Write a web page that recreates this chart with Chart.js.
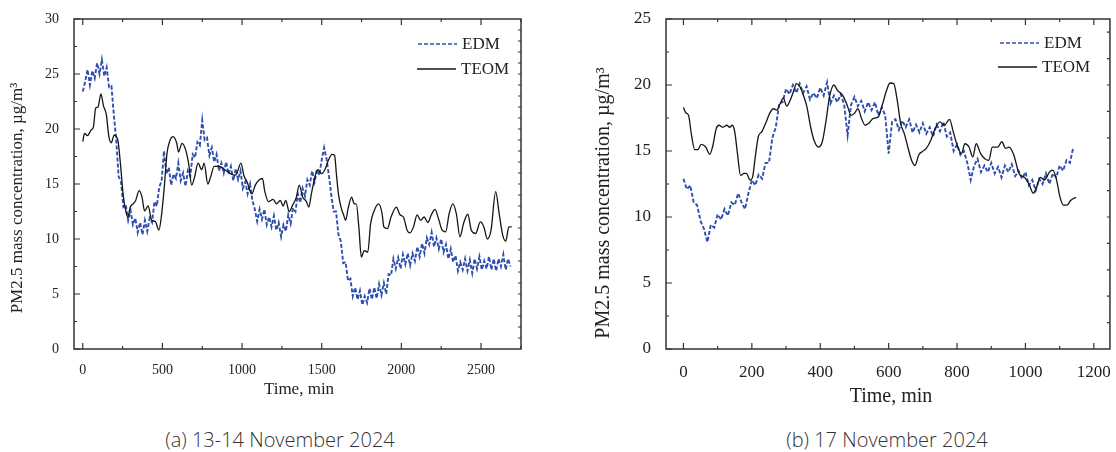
<!DOCTYPE html>
<html>
<head>
<meta charset="utf-8">
<script src="https://cdn.jsdelivr.net/npm/chart.js@4.4.1/dist/chart.umd.min.js"></script>
<style>
  body { margin: 0; background: #fff; width: 1116px; height: 452px; position: relative; overflow: hidden; }
  canvas { position: absolute; top: 0; }
  #chartA { left: 0; }
  #chartB { left: 560px; }
  .cap { position: absolute; top: 426px; width: 400px; text-align: center; font: 350 20px 'Open Sans', 'Noto Sans', sans-serif; color: #333; line-height: 27px; }
</style>
</head>
<body>
<canvas id="chartA" width="560" height="420"></canvas>
<canvas id="chartB" width="556" height="420"></canvas>
<div class="cap" style="left:80px">(a) 13-14 November 2024</div>
<div class="cap" style="left:687px">(b) 17 November 2024</div>
<script>
// ---- data (a) 13-14 November, EDM sampled every 15 min
const edmLeftStep = 15;
const edmLeft = [
  23.4,24.3,25.4,24.0,25.3,24.6,26.0,25.0,26.3,24.8,
  25.6,23.8,23.9,21.3,19.0,15.7,15.2,12.9,13.1,11.7,
  12.6,11.3,11.9,10.6,11.5,10.4,11.7,10.7,11.9,11.5,
  13.4,13.0,14.7,15.3,18.0,15.9,16.5,14.9,15.9,15.5,
  16.9,15.3,16.0,14.8,16.2,15.7,17.7,17.4,18.8,18.5,
  20.8,19.0,19.2,17.6,18.3,17.0,17.7,16.2,16.9,16.0,
  17.0,15.9,16.6,15.3,16.4,15.4,16.2,14.6,15.2,14.1,
  15.0,13.5,12.7,11.6,12.7,11.8,12.7,11.3,12.0,11.1,
  12.1,10.8,11.5,10.2,11.3,10.7,12.2,11.4,12.8,12.5,
  14.1,13.3,14.6,13.9,15.4,14.9,16.2,15.2,16.3,15.8,
  17.2,18.3,17.3,15.8,14.0,12.5,12.5,10.4,9.8,7.8,
  7.9,6.2,6.4,4.8,5.6,4.5,5.3,4.0,4.8,4.2,
  5.5,4.5,5.6,4.6,5.9,4.9,6.0,5.0,6.8,6.7,
  8.2,7.3,8.3,7.3,8.6,7.7,8.7,7.6,8.7,8.0,
  9.3,8.4,9.6,8.7,10.1,9.5,10.6,9.3,10.1,9.1,
  10.0,8.8,9.5,8.2,9.1,7.9,8.5,7.1,7.9,7.2,
  8.2,7.1,8.1,6.9,8.2,7.3,8.4,7.2,8.0,7.3,
  8.4,7.2,8.2,7.1,8.2,7.5,8.6,7.2,8.2,7.5
];
const teomLeftTime = [
  0,11,29,52,67,81,96,114,130,148,164,179,197,220,238,253,269,283,298,316,
  332,354,372,388,410,433,455,478,493,511,529,545,567,590,601,623,646,664,684,702,
  724,747,762,785,803,825,859,892,926,960,993,1011,1031,1061,1083,1105,1128,1143,1166,1195,
  1217,1240,1258,1274,1296,1318,1341,1359,1381,1404,1419,1435,1453,1475,1498,1520,1543,1565,1581,1592,
  1605,1621,1637,1650,1666,1688,1704,1717,1733,1749,1767,1789,1807,1830,1857,1879,1890,1913,1935,1969,
  1991,2013,2036,2054,2076,2099,2121,2143,2166,2188,2211,2233,2256,2278,2300,2323,2345,2368,2390,2417,
  2439,2466,2496,2518,2540,2563,2592,2614,2637,2655,2675,2693
];
const teomLeftValue = [
  18.85,19.6,19.4,19.9,20.2,21.9,22.0,23.2,22.1,21.3,19.3,18.75,19.45,19.0,16.6,14.1,12.6,12.0,12.9,13.2,
  13.5,14.4,13.8,12.55,13.0,11.7,11.6,10.8,12.0,14.6,17.8,18.85,19.3,18.7,17.9,18.7,18.1,16.9,14.9,15.65,
  16.9,16.3,16.9,15.0,15.65,16.6,16.6,16.3,15.95,15.8,16.9,15.8,15.2,14.1,14.9,15.35,15.5,14.3,13.4,13.6,
  13.2,13.5,13.0,13.5,12.5,13.1,13.8,14.9,13.8,13.4,12.9,14.1,15.35,16.3,15.95,16.3,17.2,17.7,17.6,15.95,
  14.1,12.9,12.2,11.7,12.8,13.8,13.2,13.2,11.1,8.35,8.95,8.8,11.4,12.6,13.2,12.3,11.1,10.95,12.0,12.9,
  12.2,12.0,10.8,10.55,11.1,12.2,11.7,12.0,11.5,12.2,12.7,11.85,10.8,10.65,12.3,13.2,12.3,10.2,11.4,12.25,
  10.8,10.5,11.55,11.1,10.0,10.8,14.3,12.3,10.3,9.8,11.1,11.1
];

// ---- data (b) 17 November, EDM sampled every 10 min
const edmRightStep = 10;
const edmRight = [
  12.9,12.1,12.4,11.1,10.9,9.7,9.1,8.1,9.4,9.2,
  10.2,9.8,10.6,10.1,11.1,10.9,11.8,11.1,10.6,11.8,
  12.8,12.4,13.2,12.9,14.1,14.1,16.0,16.8,18.6,18.7,
  19.7,19.3,20.0,19.4,20.1,19.4,19.9,18.9,19.4,19.0,
  19.8,19.2,20.2,18.6,19.2,18.7,19.3,18.5,16.2,18.5,
  19.1,18.4,18.8,18.0,18.7,18.1,18.7,17.7,18.3,17.7,
  14.8,17.2,17.4,16.6,17.3,16.8,17.4,16.4,17.0,16.4,
  17.1,16.3,16.8,16.1,17.0,16.5,17.2,16.1,16.4,15.0,
  15.5,14.7,15.0,14.1,12.8,13.9,14.4,13.4,13.9,13.4,
  14.1,13.3,13.8,13.0,13.9,13.4,14.0,13.1,13.5,12.9,
  13.4,12.4,12.8,12.0,12.9,12.5,13.3,12.5,13.3,13.0,
  13.9,13.5,14.3,14.1,15.3
];
const teomRightTime = [
  0,7,15,23,33,42,52,65,77,85,96,104,115,127,135,143,150,158,167,177,
  184,195,202,210,219,229,242,252,263,273,283,292,302,312,323,330,341,351,361,372,
  382,395,406,417,427,440,450,466,479,490,500,510,521,531,542,554,570,580,594,604,
  615,625,635,646,656,667,677,688,698,710,723,736,750,763,778,789,799,813,823,835,
  846,856,869,882,893,903,919,931,942,952,966,981,997,1010,1023,1033,1044,1056,1070,1080,
  1091,1101,1111,1122,1132,1148
];
const teomRightValue = [
  18.3,17.9,17.7,16.3,15.1,15.1,15.5,15.3,14.75,15.3,16.7,16.95,16.8,16.95,16.8,16.95,16.45,14.8,13.15,13.3,
  13.3,12.8,13.0,14.55,16.1,16.45,17.2,17.85,18.2,18.1,18.6,19.0,18.4,18.85,19.6,20.1,19.85,19.2,18.35,16.8,
  15.8,15.3,15.7,17.3,19.1,20.0,19.6,19.2,18.45,17.7,17.85,18.2,17.45,16.95,17.1,17.45,17.6,18.35,19.6,20.15,
  20.1,18.85,17.1,16.3,15.3,14.3,13.9,14.7,14.95,15.2,15.8,16.7,17.2,16.95,17.4,16.45,15.55,14.8,15.55,15.3,
  14.55,15.55,14.8,14.4,14.3,15.3,15.3,15.7,15.2,15.3,14.7,13.3,13.0,12.5,11.8,12.3,13.0,12.8,13.4,13.55,
  12.8,11.5,10.9,10.9,11.25,11.5
];

const xTicksLeft = [0, 500, 1000, 1500, 2000, 2500];
const yTicksLeft = [0, 5, 10, 15, 20, 25, 30];
const xTicksRight = [0, 200, 400, 600, 800, 1000, 1200];
const yTicksRight = [0, 5, 10, 15, 20, 25];
const seriesNames = ['EDM', 'TEOM'];
const xTitle = 'Time, min';
const yTitle = 'PM2.5 mass concentration, µg/m³';

const serif = "'Liberation Serif', 'Times New Roman', serif";

function stepped(step, vals) { return vals.map((v, i) => ({ x: i * step, y: v })); }
function paired(t, vals) { return vals.map((v, i) => ({ x: t[i], y: v })); }

// box, inward ticks on all four sides, titles and legend
const framePlugin = {
  id: 'frame',
  afterDraw(chart, args, o) {
    const { ctx, chartArea: a } = chart;
    const xs = chart.scales.x, ys = chart.scales.y;
    ctx.save();
    ctx.strokeStyle = '#333';
    ctx.lineWidth = 1.5;
    ctx.strokeRect(a.left, a.top, a.right - a.left, a.bottom - a.top);

    ctx.lineWidth = 1.2;
    ctx.beginPath();
    const xt = o.xTicks, yt = o.yTicks;
    const xMarks = [];
    xt.forEach((v, i) => {
      xMarks.push([v, 6]);
      const next = i < xt.length - 1 ? xt[i + 1] : v + (v - xt[i - 1]);
      const mid = (v + next) / 2;
      if (mid < xs.max) xMarks.push([mid, 3]);
    });
    xMarks.forEach(([v, len]) => {
      const p = xs.getPixelForValue(v);
      ctx.moveTo(p, a.bottom); ctx.lineTo(p, a.bottom - len);
      ctx.moveTo(p, a.top); ctx.lineTo(p, a.top + len);
    });
    yt.forEach((v, i) => {
      const p = ys.getPixelForValue(v);
      ctx.moveTo(a.left, p); ctx.lineTo(a.left + 6, p);
      if (i < yt.length - 1) {
        const q = ys.getPixelForValue((v + yt[i + 1]) / 2);
        ctx.moveTo(a.left, q); ctx.lineTo(a.left + 3, q);
      }
    });
    for (let v = o.rightStep; v < ys.max; v += o.rightStep) {
      const p = ys.getPixelForValue(v);
      ctx.moveTo(a.right, p); ctx.lineTo(a.right - 3, p);
    }
    ctx.stroke();

    ctx.fillStyle = '#222';
    ctx.textAlign = 'center';
    ctx.textBaseline = 'middle';
    ctx.font = o.titleSize + 'px ' + serif;
    ctx.fillText(xTitle, o.xTitlePos[0], o.xTitlePos[1]);
    ctx.save();
    ctx.translate(o.yTitlePos[0], o.yTitlePos[1]);
    ctx.rotate(-Math.PI / 2);
    ctx.fillText(yTitle, 0, 0);
    ctx.restore();

    ctx.font = '17px ' + serif;
    ctx.textAlign = 'left';
    chart.data.datasets.forEach((ds, i) => {
      const [x0, x1, y] = o.legend[i];
      ctx.strokeStyle = ds.borderColor;
      ctx.lineWidth = 1.4;
      ctx.setLineDash(ds.borderDash || []);
      ctx.beginPath();
      ctx.moveTo(x0, y); ctx.lineTo(x1, y);
      ctx.stroke();
      ctx.setLineDash([]);
      ctx.fillText(ds.label, x1 + 5, y + 1);
    });
    ctx.restore();
  }
};

function build(id, cfg) {
  return new Chart(document.getElementById(id), {
    type: 'line',
    data: {
      datasets: [
        { label: seriesNames[0], data: cfg.edm, borderColor: '#2f4fae', borderWidth: 1.9,
          borderDash: [4, 2], pointRadius: 0, tension: 0, order: 2 },
        { label: seriesNames[1], data: cfg.teom, borderColor: '#151515', borderWidth: 1.3,
          pointRadius: 0, tension: 0.4, cubicInterpolationMode: 'monotone', order: 1 }
      ]
    },
    options: {
      responsive: false,
      animation: false,
      devicePixelRatio: 1,
      layout: { padding: { top: 19, right: cfg.padRight, left: 0, bottom: 0 } },
      plugins: { legend: { display: false }, tooltip: { enabled: false }, frame: cfg.frame },
      scales: {
        x: {
          type: 'linear', min: cfg.xMin, max: cfg.xMax,
          afterBuildTicks: s => { s.ticks = cfg.xTicks.map(v => ({ value: v })); },
          afterFit: s => { s.height = 420 - 349; },
          grid: { display: false }, border: { display: false },
          ticks: { font: { family: serif, size: cfg.tickSize }, color: '#222', padding: 5,
                   maxRotation: 0, autoSkip: false, callback: v => String(v) }
        },
        y: {
          min: 0, max: cfg.yMax,
          afterBuildTicks: s => { s.ticks = cfg.yTicks.map(v => ({ value: v })); },
          afterFit: s => { s.width = cfg.yWidth; },
          grid: { display: false }, border: { display: false },
          ticks: { font: { family: serif, size: cfg.tickSize }, color: '#222', padding: 7,
                   callback: v => String(v) }
        }
      }
    },
    plugins: [framePlugin]
  });
}

build('chartA', {
  edm: stepped(edmLeftStep, edmLeft),
  teom: paired(teomLeftTime, teomLeftValue),
  xMin: -55, xMax: 2751, yMax: 30,
  xTicks: xTicksLeft, yTicks: yTicksLeft,
  yWidth: 74, padRight: 39, tickSize: 14,
  frame: {
    xTicks: xTicksLeft, yTicks: yTicksLeft, rightStep: 1, titleSize: 17,
    xTitlePos: [299, 390], yTitlePos: [18, 198],
    legend: [[418, 457, 44], [417, 456, 69]]
  }
});

build('chartB', {
  edm: stepped(edmRightStep, edmRight),
  teom: paired(teomRightTime, teomRightValue),
  xMin: -51, xMax: 1247, yMax: 25,
  xTicks: xTicksRight, yTicks: yTicksRight,
  yWidth: 106, padRight: 4, tickSize: 17,
  frame: {
    xTicks: xTicksRight, yTicks: yTicksRight, rightStep: 2, titleSize: 20,
    xTitlePos: [331, 397], yTitlePos: [44, 203],
    legend: [[440, 479, 43], [438, 477, 67]]
  }
});
</script>
</body>
</html>
